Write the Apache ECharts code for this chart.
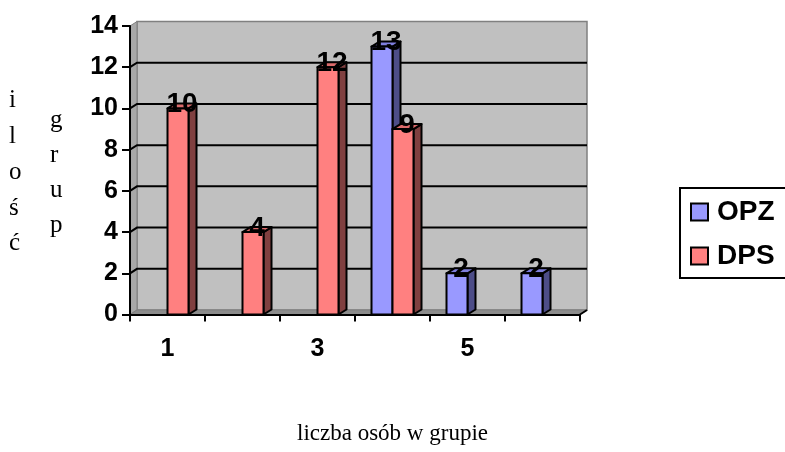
<!DOCTYPE html>
<html>
<head>
<meta charset="utf-8">
<script src="https://cdn.jsdelivr.net/npm/echarts@6/dist/echarts.min.js"></script>
<style>
html,body{margin:0;padding:0;background:#fff;}
#c{width:785px;height:452px;}
</style>
</head>
<body>
<div id="c"></div>
<script>
// ---- data ----
var categories = ['1', '2', '3', '4', '5', '6'];
var opzValues = [0, 0, 0, 13, 2, 2];
var dpsValues = [10, 4, 12, 9, 0, 0];
var yTicks = [0, 2, 4, 6, 8, 10, 12, 14];
var seriesNames = ['OPZ', 'DPS'];
var yTitleCol1 = ['i', 'l', 'o', 'ś', 'ć'];
var yTitleCol2 = ['g', 'r', 'u', 'p'];
var xTitle = 'liczba osób w grupie';

var chart = echarts.init(document.getElementById('c'), null, {renderer: 'canvas'});

var SERIF = '25px "Liberation Serif", "Times New Roman", serif';
var WALL_DX = 7, WALL_DY = -4.5;
var BAR_DX = 8, BAR_DY = -5;

var colors = {
  OPZ: {front: '#9999ff', side: '#4d4d88', top: '#7f7fdd'},
  DPS: {front: '#ff8080', side: '#804040', top: '#dd6b6b'}
};

function wallRender(params, api) {
  var n = categories.length;
  var band = api.size([1, 0])[0];
  var p0 = api.coord([0, 0]);
  var pN = api.coord([n - 1, 0]);
  var x0 = p0[0] - band / 2, x1 = pN[0] + band / 2;
  var y0 = p0[1];
  var yT = api.coord([0, yTicks[yTicks.length - 1]])[1];
  var dx = WALL_DX, dy = WALL_DY;
  var children = [];
  children.push({type: 'polygon', shape: {points: [[x0 + dx, y0 + dy], [x1 + dx, y0 + dy], [x1 + dx, yT + dy], [x0 + dx, yT + dy]]},
    style: {fill: '#c0c0c0', stroke: '#808080', lineWidth: 1.5}});
  children.push({type: 'polygon', shape: {points: [[x0, y0], [x0 + dx, y0 + dy], [x0 + dx, yT + dy], [x0, yT]]},
    style: {fill: '#a8a8a8', stroke: '#808080', lineWidth: 1}});
  children.push({type: 'polygon', shape: {points: [[x0, y0], [x1, y0], [x1 + dx, y0 + dy], [x0 + dx, y0 + dy]]},
    style: {fill: '#8c8c8c', stroke: '#808080', lineWidth: 1}});
  for (var i = 1; i < yTicks.length - 1; i++) {
    var y = api.coord([0, yTicks[i]])[1];
    children.push({type: 'polyline', shape: {points: [[x0, y], [x0 + dx, y + dy], [x1 + dx, y + dy]]},
      style: {stroke: '#000', lineWidth: 2, fill: null}});
  }
  children.push({type: 'line', shape: {x1: x1, y1: y0, x2: x1 + dx, y2: y0 + dy}, style: {stroke: '#000', lineWidth: 2}});
  return {type: 'group', children: children};
}

function barRender(slot, c) {
  return function (params, api) {
    var v = api.value(1);
    if (!v) return null;
    var cat = api.value(0);
    var base = api.coord([cat, 0]);
    var top = api.coord([cat, v]);
    var band = api.size([1, 0])[0];
    var w = band * 0.28;
    var x = slot === 0 ? base[0] - w : base[0];
    var yb = base[1], yt = top[1];
    var dx = BAR_DX, dy = BAR_DY;
    var st = {stroke: '#000', lineWidth: 2, lineJoin: 'round'};
    return {type: 'group', children: [
      {type: 'polygon', shape: {points: [[x + w, yt], [x + w + dx, yt + dy], [x + w + dx, yb + dy], [x + w, yb]]},
        style: Object.assign({fill: c.side}, st)},
      {type: 'polygon', shape: {points: [[x, yt], [x + dx, yt + dy], [x + w + dx, yt + dy], [x + w, yt]]},
        style: Object.assign({fill: c.top}, st)},
      {type: 'rect', shape: {x: x, y: yt, width: w, height: yb - yt},
        style: Object.assign({fill: c.front}, st)},
      {type: 'text', z2: 100, style: {text: String(v), x: x + w / 2 + dx / 2, y: yt - 4,
        align: 'center', verticalAlign: 'middle', fontSize: 28, fontWeight: 'bold',
        fontFamily: '"Liberation Sans", Arial, sans-serif', fill: '#000'}}
    ]};
  };
}

function toData(arr) {
  return arr.map(function (v, i) { return [i, v]; });
}

var option = {
  backgroundColor: '#ffffff',
  animation: false,
  grid: {left: 130, right: 205, top: 26, bottom: 137.5, containLabel: false},
  xAxis: {
    type: 'category',
    data: categories,
    boundaryGap: true,
    axisLine: {show: true, lineStyle: {color: '#000', width: 2}},
    axisTick: {show: true, interval: 0, length: 7, lineStyle: {color: '#000', width: 2}},
    axisLabel: {interval: 1, margin: 22, color: '#000', fontSize: 25, fontWeight: 'bold', fontFamily: '"Liberation Sans", Arial, sans-serif'},
    splitLine: {show: false},
    z: 10
  },
  yAxis: {
    type: 'value',
    min: 0, max: 14, interval: 2,
    axisLine: {show: true, lineStyle: {color: '#000', width: 2}},
    axisTick: {show: true, length: 8, lineStyle: {color: '#000', width: 2}},
    axisLabel: {margin: 12, color: '#000', fontSize: 25, fontWeight: 'bold', fontFamily: '"Liberation Sans", Arial, sans-serif'},
    splitLine: {show: false},
    z: 10
  },
  legend: {
    orient: 'vertical',
    left: 680, top: 188,
    padding: [10, 20, 8, 10],
    itemGap: 16,
    itemWidth: 17, itemHeight: 17,
    icon: 'rect',
    borderColor: '#000', borderWidth: 2,
    backgroundColor: '#fff',
    textStyle: {fontSize: 28, fontWeight: 'bold', color: '#000', fontFamily: '"Liberation Sans", Arial, sans-serif', lineHeight: 28, padding: [0, 0, 0, 4]},
    data: [
      {name: seriesNames[0], itemStyle: {color: colors.OPZ.front, borderColor: '#000', borderWidth: 2}},
      {name: seriesNames[1], itemStyle: {color: colors.DPS.front, borderColor: '#000', borderWidth: 2}}
    ]
  },
  graphic: [
    {type: 'text', left: 9, top: 83, style: {text: yTitleCol1.join('\n'), font: SERIF, lineHeight: 35.7, fill: '#000', align: 'center'}},
    {type: 'text', left: 50, top: 103, style: {text: yTitleCol2.join('\n'), font: SERIF, lineHeight: 35, fill: '#000', align: 'center'}},
    {type: 'text', left: 'center', top: 422, style: {text: xTitle, font: '23px "Liberation Serif", "Times New Roman", serif', fill: '#000'}}
  ],
  series: [
    {type: 'custom', name: '_wall', silent: true, z: 1, renderItem: wallRender, data: [[0, 0]], clip: false},
    {type: 'custom', name: seriesNames[0], z: 3, renderItem: barRender(0, colors.OPZ), data: toData(opzValues),
      itemStyle: {color: colors.OPZ.front}, clip: false},
    {type: 'custom', name: seriesNames[1], z: 4, renderItem: barRender(1, colors.DPS), data: toData(dpsValues),
      itemStyle: {color: colors.DPS.front}, clip: false}
  ]
};
chart.setOption(option);
</script>
</body>
</html>
